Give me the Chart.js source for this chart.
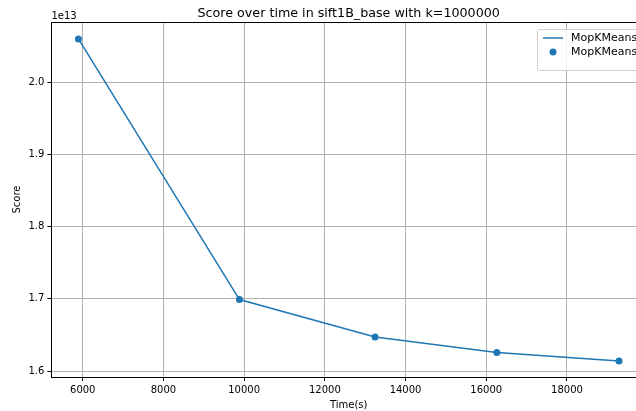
<!DOCTYPE html>
<html>
<head>
<meta charset="utf-8">
<script src="https://cdn.jsdelivr.net/npm/chart.js@4"></script>
<style>
  html, body { margin: 0; padding: 0; overflow: hidden; background: #fff; }
  #wrap { width: 660px; height: 411px; }
</style>
</head>
<body>
<div id="wrap"><canvas id="chart" width="660" height="411"></canvas></div>
<script>
'use strict';

// ── Data ─────────────────────────────────────
const TIMES  = [5893, 9884, 13245, 16262, 19290];
const SCORES = [2.060e13, 1.699e13, 1.647e13, 1.6255e13, 1.614e13];
const X_TICKS = [6000, 8000, 10000, 12000, 14000, 16000, 18000];
const Y_TICKS = [1.6e13, 1.7e13, 1.8e13, 1.9e13, 2.0e13];
const SERIES_NAMES = ['MopKMeans', 'MopKMeans'];

const BLUE = '#1f77b4';
const FONT = '"DejaVu Sans", sans-serif';

const points = TIMES.map((t, i) => ({ x: t, y: SCORES[i] }));

// ── Frame, title, offset text, legend ────────
const decor = {
  id: 'decor',
  afterDraw(chart) {
    const { ctx, chartArea: a } = chart;
    ctx.save();
    ctx.strokeStyle = '#000';
    ctx.lineWidth = 1;
    ctx.beginPath();
    ctx.moveTo(a.left, a.top + 0.5);
    ctx.lineTo(a.right, a.top + 0.5);
    ctx.moveTo(a.right - 0.5, a.top);
    ctx.lineTo(a.right - 0.5, a.bottom);
    ctx.stroke();

    ctx.fillStyle = '#000';
    ctx.font = '12.7px ' + FONT;
    ctx.textAlign = 'center';
    ctx.textBaseline = 'alphabetic';
    ctx.fillText('Score over time in sift1B_base with k=1000000', (a.left + a.right) / 2, 17);

    ctx.font = '10px ' + FONT;
    ctx.textAlign = 'left';
    ctx.fillText('1e13', a.left, 19);

    // legend
    const lx = 537, ly = 29, lw = 112, lh = 41;
    ctx.fillStyle = 'rgba(255,255,255,0.8)';
    ctx.strokeStyle = '#d0d0d0';
    ctx.beginPath();
    ctx.roundRect(lx + 0.5, ly + 0.5, lw, lh, 2);
    ctx.fill();
    ctx.stroke();
    ctx.strokeStyle = BLUE;
    ctx.lineWidth = 1.5;
    ctx.beginPath();
    ctx.moveTo(543, 38);
    ctx.lineTo(563, 38);
    ctx.stroke();
    ctx.fillStyle = BLUE;
    ctx.beginPath();
    ctx.arc(553, 52, 3.5, 0, Math.PI * 2);
    ctx.fill();
    ctx.fillStyle = '#000';
    ctx.font = '11px ' + FONT;
    ctx.textBaseline = 'middle';
    ctx.fillText(SERIES_NAMES[0], 571, 38);
    ctx.fillText(SERIES_NAMES[1], 571, 52);
    ctx.restore();
  }
};

new Chart(document.getElementById('chart'), {
  type: 'scatter',
  data: {
    datasets: [
      {
        label: SERIES_NAMES[0],
        type: 'line',
        data: points,
        borderColor: BLUE,
        borderWidth: 1.5,
        pointRadius: 0,
        tension: 0,
        fill: false
      },
      {
        label: SERIES_NAMES[1],
        data: points,
        backgroundColor: BLUE,
        borderColor: BLUE,
        pointRadius: 3.5,
        borderWidth: 0
      }
    ]
  },
  options: {
    responsive: false,
    animation: false,
    layout: { padding: { top: 22, right: 14, left: 0, bottom: 0 } },
    plugins: {
      legend: { display: false },
      title: { display: false },
      tooltip: { enabled: false }
    },
    scales: {
      x: {
        type: 'linear',
        min: 5223,
        max: 19959,
        afterBuildTicks: s => { s.ticks = X_TICKS.map(v => ({ value: v })); },
        afterFit: s => { s.height = 34; },
        grid: { color: '#b0b0b0', lineWidth: 1, tickColor: '#000', tickLength: 4 },
        border: { color: '#000', width: 1 },
        ticks: {
          color: '#000', font: { family: FONT, size: 10 }, padding: 3, maxRotation: 0,
          callback: v => String(v)
        },
        title: { display: true, text: 'Time(s)', color: '#000', font: { family: FONT, size: 10 }, padding: { top: 0, bottom: 0 } }
      },
      y: {
        type: 'linear',
        min: 1.5917e13,
        max: 2.0835e13,
        afterBuildTicks: s => { s.ticks = Y_TICKS.map(v => ({ value: v })); },
        afterFit: s => { s.width = 51.4; },
        grid: { color: '#b0b0b0', lineWidth: 1, tickColor: '#000', tickLength: 4 },
        border: { color: '#000', width: 1 },
        ticks: {
          color: '#000', font: { family: FONT, size: 10 }, padding: 3,
          callback: v => (v / 1e13).toFixed(1)
        },
        title: { display: true, text: 'Score', color: '#000', font: { family: FONT, size: 10 }, padding: { top: 11, bottom: 6 } }
      }
    }
  },
  plugins: [decor]
});
</script>
</body>
</html>
